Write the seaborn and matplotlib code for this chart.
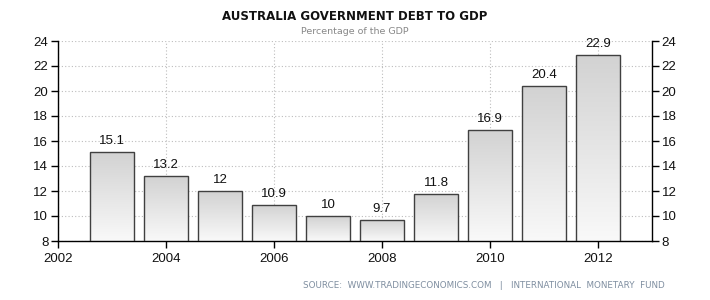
import numpy as np
import pandas as pd
import matplotlib
matplotlib.use("Agg")
import matplotlib.pyplot as plt
import seaborn as sns
from matplotlib.colors import LinearSegmentedColormap

years = [2003, 2004, 2005, 2006, 2007, 2008, 2009, 2010, 2011, 2012]
values = [15.1, 13.2, 12, 10.9, 10, 9.7, 11.8, 16.9, 20.4, 22.9]
labels = ["15.1", "13.2", "12", "10.9", "10", "9.7", "11.8", "16.9", "20.4", "22.9"]
xticks = [2002, 2004, 2006, 2008, 2010, 2012]
yticks = [8, 10, 12, 14, 16, 18, 20, 22, 24]

sns.set_style("white")
plt.rcParams['font.family'] = ['Liberation Sans', 'DejaVu Sans']

df = pd.DataFrame({"year": years, "value": values})

fig = plt.figure(figsize=(7.1, 3.0), dpi=100)
ax = fig.add_axes([58/710, 59/300, 594/710, 200/300])

sns.barplot(data=df, x="year", y="value", native_scale=True, ax=ax,
            color="#dddddd", edgecolor="#404040", linewidth=1.0, zorder=3,
            errorbar=None, width=0.8)

ax.set_xlim(2002, 2013)
ax.set_ylim(8, 24)

grad = np.linspace(0, 1, 256).reshape(-1, 1)
cmap = LinearSegmentedColormap.from_list("g", ["#f9f9f9", "#d2d2d2"])
for p, lab in zip(ax.patches, labels):
    x0 = p.get_x(); w = p.get_width(); h = p.get_height()
    p.set_facecolor("none")
    im = ax.imshow(grad, extent=[x0, x0 + w, 8, h], origin="lower", cmap=cmap,
                   aspect="auto", zorder=2)
    im.set_clip_path(p)
    ax.annotate(lab, (x0 + w / 2, h), xytext=(0, 3.5), textcoords="offset points",
                ha="center", va="bottom", fontsize=9.5, color="#111111", zorder=4)
ax.set_xlim(2002, 2013)
ax.set_ylim(8, 24)
ax.set_aspect("auto")

ax.set_xticks(xticks)
ax.set_yticks(yticks)
ax.set_xlabel("")
ax.set_ylabel("")
ax.grid(True, color="#bdbdbd", linestyle=(0, (1, 2)), linewidth=0.8, zorder=0)
ax.set_axisbelow(True)

for s in ["left", "right", "bottom"]:
    ax.spines[s].set_visible(True)
    ax.spines[s].set_color("black")
    ax.spines[s].set_linewidth(1.0)
ax.spines["top"].set_visible(False)

ax.tick_params(axis="both", which="major", direction="out", length=5, width=1,
               color="black", labelsize=9.5, labelcolor="#111111",
               left=True, right=True, bottom=True, labelleft=True, labelright=True)
ax.tick_params(axis="x", pad=4)
ax.tick_params(axis="y", pad=2)

fig.text(355/710, 1 - 17/300, "AUSTRALIA GOVERNMENT DEBT TO GDP", ha="center", va="center",
         fontsize=8.5, fontweight="bold", family=["DejaVu Sans"], color="#111111")
fig.text(355/710, 1 - 31/300, "Percentage of the GDP", ha="center", va="center",
         fontsize=6.8, family=["DejaVu Sans"], color="#888888")
fig.text(665/710, 1 - 286/300, "SOURCE:  WWW.TRADINGECONOMICS.COM   |   INTERNATIONAL  MONETARY  FUND",
         ha="right", va="center", fontsize=6.3, family=["DejaVu Sans"], color="#7f8ea0")

fig.savefig("out.png", dpi=100)
